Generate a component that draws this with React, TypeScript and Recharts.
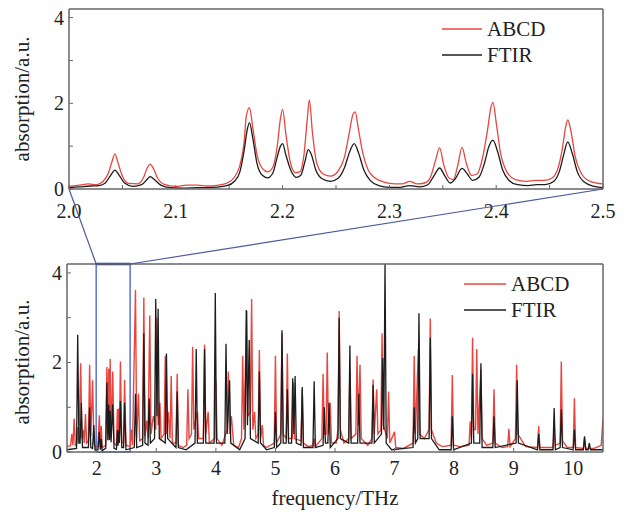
import React from 'react';
import { LineChart, Line, XAxis, YAxis, ReferenceArea, ReferenceLine } from 'recharts';

// ---------- data (frequency THz, absorption a.u.) ----------
const topAbcd: [number, number][] = [
  [2.000,0.06],[2.010,0.09],[2.018,0.12],[2.026,0.10],[2.032,0.18],[2.037,0.38],[2.040,0.62],[2.043,0.82],[2.046,0.60],[2.050,0.30],[2.056,0.13],[2.064,0.12],[2.070,0.28],[2.073,0.48],[2.076,0.58],[2.079,0.48],[2.083,0.25],[2.090,0.10],[2.100,0.06],[2.110,0.09],[2.120,0.09],[2.130,0.07],[2.140,0.09],[2.148,0.14],[2.155,0.28],[2.160,0.55],[2.164,1.10],[2.166,1.70],[2.169,1.90],[2.172,1.45],[2.176,0.80],[2.181,0.48],[2.186,0.40],[2.191,0.52],[2.195,1.00],[2.198,1.65],[2.200,1.86],[2.203,1.30],[2.207,0.65],[2.212,0.38],[2.216,0.40],[2.220,0.80],[2.223,1.60],[2.225,2.08],[2.228,1.30],[2.232,0.60],[2.238,0.35],[2.245,0.30],[2.252,0.42],[2.258,0.75],[2.262,1.25],[2.266,1.75],[2.268,1.80],[2.271,1.40],[2.275,0.85],[2.280,0.45],[2.287,0.25],[2.295,0.16],[2.305,0.12],[2.312,0.12],[2.319,0.18],[2.326,0.12],[2.333,0.14],[2.338,0.25],[2.343,0.65],[2.347,0.96],[2.351,0.55],[2.356,0.25],[2.360,0.22],[2.364,0.55],[2.368,0.97],[2.372,0.60],[2.377,0.32],[2.382,0.35],[2.387,0.70],[2.392,1.40],[2.395,1.90],[2.397,2.02],[2.400,1.55],[2.404,0.85],[2.410,0.40],[2.418,0.22],[2.428,0.18],[2.437,0.20],[2.445,0.20],[2.452,0.25],[2.458,0.50],[2.462,0.95],[2.465,1.45],[2.467,1.61],[2.470,1.35],[2.474,0.75],[2.480,0.35],[2.488,0.18],[2.500,0.12],
];

const topFtir: [number, number][] = [
  [2.000,0.03],[2.010,0.05],[2.020,0.07],[2.028,0.08],[2.034,0.14],[2.039,0.32],[2.043,0.44],[2.047,0.32],[2.052,0.14],[2.060,0.06],[2.068,0.10],[2.073,0.22],[2.076,0.29],[2.080,0.22],[2.086,0.09],[2.095,0.03],[2.105,0.02],[2.120,0.03],[2.135,0.04],[2.148,0.08],[2.155,0.18],[2.160,0.40],[2.164,0.90],[2.167,1.40],[2.169,1.55],[2.172,1.20],[2.176,0.60],[2.181,0.32],[2.186,0.26],[2.191,0.38],[2.195,0.75],[2.198,1.00],[2.200,1.06],[2.203,0.80],[2.208,0.42],[2.213,0.27],[2.217,0.32],[2.221,0.65],[2.224,0.92],[2.227,0.80],[2.231,0.45],[2.237,0.24],[2.245,0.18],[2.252,0.25],[2.258,0.50],[2.263,0.88],[2.267,1.06],[2.271,0.85],[2.276,0.45],[2.282,0.20],[2.290,0.08],[2.300,0.04],[2.310,0.04],[2.319,0.08],[2.328,0.05],[2.336,0.10],[2.342,0.32],[2.347,0.49],[2.352,0.30],[2.357,0.14],[2.362,0.25],[2.368,0.48],[2.373,0.35],[2.378,0.20],[2.384,0.28],[2.389,0.60],[2.393,0.98],[2.397,1.14],[2.401,0.90],[2.406,0.45],[2.412,0.20],[2.420,0.10],[2.430,0.08],[2.438,0.10],[2.446,0.10],[2.454,0.18],[2.459,0.40],[2.463,0.78],[2.467,1.10],[2.471,0.85],[2.476,0.40],[2.483,0.15],[2.492,0.06],[2.500,0.03],
];

const wideAbcd: [number, number][] = [
  [1.50,0.12],[1.56,0.14],[1.58,0.4],[1.60,0.15],[1.62,0.75],[1.64,0.15],[1.67,0.2],[1.68,0.55],[1.70,0.25],[1.73,1.98],[1.75,0.3],[1.77,0.5],[1.79,0.2],[1.81,0.85],[1.83,0.2],[1.86,0.25],[1.88,1.95],[1.90,0.35],[1.93,1.60],[1.95,0.2],[1.99,0.1],
  [2.02,0.12],[2.043,0.82],[2.06,0.12],[2.076,0.58],[2.09,0.1],[2.15,0.15],[2.169,1.90],[2.185,0.4],[2.200,1.86],[2.213,0.38],[2.225,2.08],[2.24,0.32],[2.268,1.80],[2.29,0.2],[2.33,0.14],[2.347,0.96],[2.358,0.22],[2.368,0.97],[2.38,0.33],[2.397,2.02],[2.42,0.2],[2.45,0.22],[2.467,1.61],[2.49,0.15],
  [2.56,0.12],[2.58,0.5],[2.60,0.15],[2.65,3.62],[2.67,0.3],[2.70,1.3],[2.72,0.25],[2.77,0.3],[2.79,3.45],[2.81,0.35],[2.84,0.7],[2.86,0.3],[2.89,3.05],[2.91,0.4],[2.95,0.8],[2.99,0.5],[3.01,3.0],[3.03,0.6],[3.06,1.1],[3.08,0.3],[3.13,0.4],[3.15,2.15],[3.17,0.4],[3.20,0.9],[3.23,0.3],[3.25,1.70],[3.27,0.2],[3.33,0.2],[3.35,1.75],[3.37,0.15],[3.45,0.1],[3.51,0.15],[3.53,1.40],[3.55,0.3],[3.59,0.4],[3.61,2.35],[3.63,0.5],[3.69,0.9],[3.71,0.3],[3.79,0.3],[3.81,2.40],[3.83,0.4],[3.87,0.9],[3.89,0.2],[3.98,0.3],[4.00,1.6],[4.02,0.3],[4.10,0.15],[4.19,0.5],[4.21,1.80],[4.23,0.4],[4.26,0.8],[4.30,0.15],[4.38,0.1],[4.43,0.3],[4.45,2.15],[4.47,0.5],[4.52,3.15],[4.54,0.8],[4.58,0.9],[4.60,3.42],[4.62,0.5],[4.65,0.9],[4.67,0.3],[4.71,0.4],[4.73,2.28],[4.75,0.3],[4.78,0.6],[4.80,0.15],[4.85,0.1],[4.98,0.2],[5.00,2.15],[5.02,0.2],[5.09,0.4],[5.11,2.65],[5.13,0.4],[5.18,0.3],[5.20,2.20],[5.22,0.3],[5.28,0.3],[5.30,1.55],[5.32,0.3],[5.43,0.25],[5.45,1.40],[5.47,0.2],[5.55,0.12],[5.63,0.15],[5.65,0.3],[5.67,0.12],[5.78,0.3],[5.80,1.75],[5.82,0.4],[5.85,0.4],[5.87,2.22],[5.89,0.4],[5.92,1.1],[5.94,0.2],[6.02,0.2],[6.05,0.5],[6.07,3.15],[6.09,0.5],[6.15,0.2],[6.23,0.3],[6.25,1.80],[6.27,0.3],[6.35,0.4],[6.37,2.15],[6.39,0.6],[6.42,1.95],[6.44,0.3],[6.55,0.15],[6.62,0.3],[6.64,1.62],[6.66,0.4],[6.70,1.40],[6.72,0.4],[6.77,0.5],[6.79,2.65],[6.81,0.6],[6.88,0.3],[6.90,1.35],[6.92,0.2],[7.00,0.45],[7.02,0.1],[7.15,0.08],[7.31,0.2],[7.33,2.15],[7.35,0.4],[7.40,2.30],[7.42,0.4],[7.50,0.3],[7.58,0.5],[7.60,2.98],[7.62,0.5],[7.70,0.2],[7.80,0.12],[7.95,0.15],[7.97,1.72],[7.99,0.15],[8.10,0.12],[8.25,0.15],[8.27,0.68],[8.29,0.3],[8.31,2.55],[8.33,0.5],[8.36,0.5],[8.38,2.30],[8.40,0.4],[8.45,1.85],[8.47,0.3],[8.55,0.15],[8.65,0.2],[8.67,1.40],[8.69,0.2],[8.80,0.1],[8.90,0.12],[8.92,0.52],[8.94,0.12],[9.03,0.3],[9.05,1.95],[9.07,0.4],[9.20,0.12],[9.40,0.1],[9.42,0.58],[9.44,0.1],[9.55,0.1],[9.66,0.1],[9.68,0.5],[9.70,0.15],[9.78,0.2],[9.80,2.02],[9.82,0.25],[9.90,0.1],[10.00,0.1],[10.02,1.20],[10.04,0.1],[10.17,0.08],[10.19,0.30],[10.21,0.08],[10.35,0.08],[10.47,0.15],[10.50,0.75],
];

const wideFtir: [number, number][] = [
  [1.50,0.05],[1.66,0.08],[1.68,2.62],[1.70,0.2],[1.72,0.2],[1.74,1.1],[1.76,0.1],[1.86,0.1],[1.88,1.0],[1.90,0.1],[1.93,0.08],[1.95,0.6],[1.97,0.05],
  [2.02,0.05],[2.042,0.45],[2.06,0.05],[2.076,0.29],[2.09,0.03],[2.15,0.08],[2.169,1.55],[2.186,0.26],[2.200,1.06],[2.213,0.27],[2.224,0.92],[2.24,0.22],[2.267,1.06],[2.29,0.08],[2.33,0.06],[2.347,0.49],[2.357,0.14],[2.368,0.48],[2.38,0.2],[2.397,1.14],[2.42,0.1],[2.45,0.1],[2.467,1.10],[2.49,0.05],
  [2.63,0.1],[2.65,1.3],[2.67,0.1],[2.77,0.15],[2.79,2.65],[2.81,0.2],[2.86,0.15],[2.88,1.2],[2.90,0.2],[2.97,0.3],[2.99,3.42],[3.01,0.8],[3.03,3.20],[3.05,0.3],[3.15,0.2],[3.17,2.20],[3.19,0.3],[3.33,0.1],[3.35,1.35],[3.37,0.1],[3.50,0.05],[3.65,0.2],[3.67,2.30],[3.69,0.2],[3.79,0.2],[3.81,2.30],[3.83,0.2],[3.97,0.2],[3.99,3.55],[4.01,0.2],[4.15,0.2],[4.17,2.42],[4.19,0.4],[4.23,1.6],[4.25,0.2],[4.40,0.05],[4.49,0.3],[4.51,3.17],[4.53,0.6],[4.56,2.5],[4.58,0.3],[4.71,0.2],[4.73,1.80],[4.75,0.2],[4.85,0.05],[4.98,0.1],[5.00,0.9],[5.02,0.1],[5.09,0.2],[5.11,2.72],[5.13,0.2],[5.18,0.2],[5.20,1.4],[5.22,0.2],[5.27,0.2],[5.29,1.65],[5.31,0.4],[5.33,1.70],[5.35,0.2],[5.43,0.15],[5.45,1.45],[5.47,0.1],[5.63,0.1],[5.65,1.58],[5.67,0.1],[5.80,0.15],[5.82,1.0],[5.84,0.2],[5.88,0.2],[5.90,1.1],[5.92,0.1],[6.05,0.3],[6.07,3.0],[6.09,0.3],[6.23,0.2],[6.25,2.38],[6.27,0.2],[6.38,0.2],[6.40,1.3],[6.42,0.2],[6.62,0.2],[6.64,1.5],[6.66,0.2],[6.78,0.4],[6.80,2.1],[6.82,0.5],[6.84,4.2],[6.86,0.2],[6.95,0.05],[7.31,0.1],[7.33,1.0],[7.35,0.2],[7.39,0.3],[7.41,3.10],[7.43,0.3],[7.58,0.3],[7.60,2.55],[7.62,0.3],[7.75,0.05],[7.95,0.05],[7.97,0.8],[7.99,0.05],[8.29,0.2],[8.31,1.75],[8.33,0.2],[8.43,0.2],[8.45,1.98],[8.47,0.1],[8.65,0.1],[8.67,0.8],[8.69,0.1],[9.04,0.2],[9.06,1.60],[9.08,0.2],[9.40,0.05],[9.42,0.40],[9.44,0.05],[9.66,0.05],[9.68,0.98],[9.70,0.05],[9.78,0.1],[9.80,0.95],[9.82,0.1],[10.00,0.05],[10.02,0.5],[10.04,0.05],[10.17,0.05],[10.19,0.35],[10.21,0.05],[10.25,0.05],[10.27,0.2],[10.29,0.05],[10.50,0.05],
];

const topXTicks = [2.0, 2.05, 2.1, 2.15, 2.2, 2.25, 2.3, 2.35, 2.4, 2.45, 2.5];
const wideXTicks = [2, 3, 4, 5, 6, 7, 8, 9, 10];
const yTicks = [0, 1, 2, 3, 4];
const seriesNames = ['ABCD', 'FTIR'];
const zoomRange = [1.99, 2.56];

// ---------- styling / layout ----------
const RED = '#e8463f';
const BLACK = '#1c1c1c';
const FRAME = '#666666';
const FONT = "'Liberation Serif', 'DejaVu Serif', serif";
const TXT: React.CSSProperties = { fontFamily: FONT };
const W = 628;
const topDomain: [number, number] = [2.0, 2.5];
const wideDomain: [number, number] = [1.5, 10.5];
const yDomain: [number, number] = [0, 4.2];

const TOP_H = 240;
const topM = { top: 8, right: 24, left: 68, bottom: 50 }; // + 1px axes -> plot 69..603 x 9..189
const BOT_Y = 240;
const BOT_H = 272;
const botM = { top: 23, right: 24, left: 66, bottom: 59 }; // plot 67..603 x 264..452

const toRows = (pts: [number, number][]) => pts.map(([f, a]) => ({ f, a }));

const makeXTick = (labelFn: (v: number) => string | null, labelDy: number) => (props: any) => {
  const { x, y, payload } = props;
  const lab = labelFn(payload.value);
  return (
    <g>
      <line x1={x} y1={y} x2={x} y2={y - 4} stroke={FRAME} strokeWidth={1} />
      {lab !== null && (
        <text x={x} y={y + labelDy} textAnchor="middle" style={TXT} fontSize={20} fill="#222">{lab}</text>
      )}
    </g>
  );
};

const YTick = (props: any) => {
  const { x, y, payload } = props;
  const v = payload.value;
  return (
    <g>
      <line x1={x} y1={y} x2={x + 4} y2={y} stroke={FRAME} strokeWidth={1} />
      {v % 2 === 0 && (
        <text x={x - 5} y={y + 7} textAnchor="end" style={TXT} fontSize={20} fill="#222">{v}</text>
      )}
    </g>
  );
};

const topTick = makeXTick((v) => (Math.round(v * 100) % 10 === 0 ? v.toFixed(1) : null), 29);
const wideTick = makeXTick((v) => String(v), 23);

const LegendBox = ({ x, y, lineW }: { x: number; y: number; lineW: number }) => (
  <g>
    {seriesNames.map((name, i) => (
      <g key={name}>
        <line x1={x} x2={x + lineW} y1={y + i * 26} y2={y + i * 26} stroke={i === 0 ? RED : BLACK} strokeWidth={1.3} />
        <text x={x + lineW + 5} y={y + 7 + i * 26} style={TXT} fontSize={21} fill="#222">{name}</text>
      </g>
    ))}
  </g>
);

const frameAxes = (domain: [number, number]) => [
  <XAxis key="ft" xAxisId="ft" orientation="top" type="number" domain={domain} height={1} tick={false} tickLine={false} axisLine={{ stroke: FRAME, strokeWidth: 1.5 }} allowDataOverflow />,
  <YAxis key="fr" yAxisId="fr" orientation="right" type="number" domain={yDomain} width={1} tick={false} tickLine={false} axisLine={{ stroke: FRAME, strokeWidth: 1.5 }} allowDataOverflow />,
];

// plot-area geometry derived from layout constants (for the zoom connectors)
const topPlot = { x0: topM.left + 1, x1: W - topM.right - 1, y1: TOP_H - topM.bottom - 1 };
const botPlot = { x0: botM.left + 1, x1: W - botM.right - 1, y0: BOT_Y + botM.top + 1 };
const botX = (f: number) => botPlot.x0 + ((f - wideDomain[0]) / (wideDomain[1] - wideDomain[0])) * (botPlot.x1 - botPlot.x0);

export default function App() {
  return (
    <div style={{ position: 'absolute', left: 0, top: 0, width: W, height: 512, background: '#fff' }}>
      <div style={{ position: 'absolute', left: 0, top: 0 }}>
        <LineChart width={W} height={TOP_H} margin={topM}>
          <XAxis dataKey="f" type="number" domain={topDomain} ticks={topXTicks} interval={0} height={1}
            tickSize={0} tickMargin={0} tickLine={false} tick={topTick}
            axisLine={{ stroke: FRAME, strokeWidth: 1.5 }} allowDataOverflow />
          <YAxis type="number" domain={yDomain} ticks={yTicks} interval={0} width={1}
            tickSize={0} tickMargin={0} tickLine={false} tick={YTick}
            axisLine={{ stroke: FRAME, strokeWidth: 1.5 }} allowDataOverflow />
          {frameAxes(topDomain)}
          <Line data={toRows(topAbcd)} dataKey="a" name="ABCD" type="monotone" stroke={RED} strokeWidth={1.3} dot={false} isAnimationActive={false} />
          <Line data={toRows(topFtir)} dataKey="a" name="FTIR" type="monotone" stroke={BLACK} strokeWidth={1.3} dot={false} isAnimationActive={false} />
        </LineChart>
      </div>
      <div style={{ position: 'absolute', left: 0, top: BOT_Y }}>
        <LineChart width={W} height={BOT_H} margin={botM}>
          <XAxis dataKey="f" type="number" domain={wideDomain} ticks={wideXTicks} interval={0} height={1}
            tickSize={0} tickMargin={0} tickLine={false} tick={wideTick}
            axisLine={{ stroke: FRAME, strokeWidth: 1.5 }} allowDataOverflow />
          <YAxis type="number" domain={yDomain} ticks={yTicks} interval={0} width={1}
            tickSize={0} tickMargin={0} tickLine={false} tick={YTick}
            axisLine={{ stroke: FRAME, strokeWidth: 1.5 }} allowDataOverflow />
          {frameAxes(wideDomain)}
          <Line data={toRows(wideAbcd)} dataKey="a" name="ABCD" type="linear" stroke={RED} strokeWidth={1.4} dot={false} isAnimationActive={false} />
          <Line data={toRows(wideFtir)} dataKey="a" name="FTIR" type="linear" stroke={BLACK} strokeWidth={1.3} dot={false} isAnimationActive={false} />
          <ReferenceArea x1={zoomRange[0]} x2={zoomRange[1]} y1={0} y2={4.2} fill="none" stroke="#5873d6" strokeWidth={1.5} ifOverflow="visible" />
          <ReferenceLine segment={[{ x: zoomRange[0], y: 4.2 }, { x: zoomRange[1], y: 4.2 }]} stroke="#2b3f94" strokeWidth={2.5} ifOverflow="visible" />
        </LineChart>
      </div>
      <svg width={W} height={512} style={{ position: 'absolute', left: 0, top: 0, pointerEvents: 'none' }}>
        <line x1={topPlot.x0} y1={topPlot.y1} x2={botX(zoomRange[0])} y2={botPlot.y0} stroke="#4d5a9c" strokeWidth={1.2} />
        <line x1={topPlot.x1} y1={topPlot.y1} x2={botX(zoomRange[1])} y2={botPlot.y0} stroke="#4d5a9c" strokeWidth={1.2} />
        <LegendBox x={442} y={29} lineW={40} />
        <LegendBox x={464} y={284} lineW={42} />
        <text transform="translate(29,99) rotate(-90)" textAnchor="middle" style={TXT} fontSize={21} fill="#222">absorption/a.u.</text>
        <text transform="translate(29,362) rotate(-90)" textAnchor="middle" style={TXT} fontSize={21} fill="#222">absorption/a.u.</text>
        <text x={335} y={505} textAnchor="middle" style={TXT} fontSize={21} fill="#222">frequency/THz</text>
      </svg>
    </div>
  );
}
